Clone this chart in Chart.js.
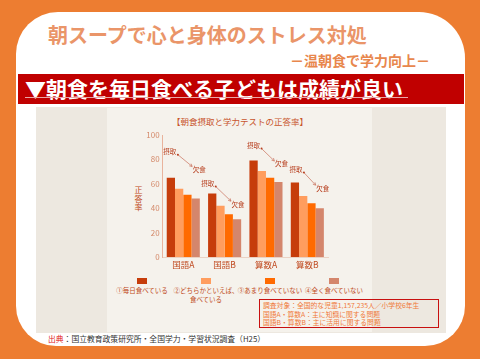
<!DOCTYPE html>
<html><head><meta charset="utf-8">
<script src="https://cdn.jsdelivr.net/npm/chart.js@4.4.0/dist/chart.umd.min.js"></script>
<style>
html,body{margin:0;padding:0;}
body{width:480px;height:359px;overflow:hidden;background:#ed7d31;position:relative;font-family:"Noto Sans CJK JP","Noto Sans",sans-serif;}
.abs{position:absolute;white-space:nowrap;}
#panel{left:16px;top:12px;width:449px;height:334px;background:#fff;border-radius:42px 46px 40px 40px;}
#title{left:48px;top:21px;font-size:20px;line-height:28px;font-weight:bold;color:#ea9569;}
#sub{left:290px;top:50px;font-size:14px;line-height:20px;font-weight:bold;color:#e8874d;}
#redbar{left:18px;top:74px;width:446px;height:30px;background:#c00000;}
#head{left:25px;top:73px;font-size:21px;line-height:30px;font-weight:bold;color:#fff;}
#uline{left:25px;top:97px;width:383px;height:1px;background:#eaa8a8;}
#beige{left:36px;top:107px;width:410px;height:226px;background:#ede8e0;}
#inner{left:107px;top:108px;width:265px;height:224px;background:#f5f2ec;}
#ctitle{left:172px;top:115px;font-size:8.5px;line-height:12px;color:#c8552c;}
#ytitle{left:134px;top:186px;width:9px;font-size:8px;line-height:8.5px;color:#c04a20;text-align:center;white-space:normal;}
#legend{left:110px;top:278px;display:flex;}
.li{width:64px;display:flex;flex-direction:column;align-items:center;}
.sq{width:10px;height:6px;}
.lt{margin-top:2px;font-size:6.5px;line-height:8.5px;color:#c04a20;text-align:center;white-space:pre;}
#note{left:259px;top:299px;width:175px;height:26px;border:1.5px solid #c81010;padding:1px 0 0 3px;font-size:6.8px;line-height:8.5px;color:#f07838;white-space:pre;}
#src{left:48px;top:333px;font-size:7.8px;line-height:12px;color:#333;}
#src b{color:#e02020;font-weight:normal;}
canvas{position:absolute;left:0;top:0;}
</style></head>
<body>
<div class="abs" id="panel"></div>
<div class="abs" id="title">朝スープで心と身体のストレス対処</div>
<div class="abs" id="sub">－温朝食で学力向上－</div>
<div class="abs" id="redbar"></div>
<div class="abs" id="head">▼朝食を毎日食べる子どもは成績が良い</div>
<div class="abs" id="uline"></div>
<div class="abs" id="beige"></div>
<div class="abs" id="inner"></div>
<div class="abs" id="ctitle">【朝食摂取と学力テストの正答率】</div>
<div class="abs" id="ytitle">正答率</div>
<div class="abs" id="legend"></div>
<div class="abs" id="note"></div>
<div class="abs" id="src"><b>出典</b>：国立教育政策研究所・全国学力・学習状況調査（H25）</div>
<canvas id="c" width="480" height="359"></canvas>
<script>
const categories = ['国語A', '国語B', '算数A', '算数B'];
const seriesNames = ['①毎日食べている', '②どちらかといえば、\n食べている', '③あまり食べていない', '④全く食べていない'];
const everyDay = [65, 52, 79, 61];
const mostly = [56, 42, 70.5, 50];
const rarely = [51, 35, 65, 44];
const never = [48, 31, 61.5, 40];
const yTicks = [0, 20, 40, 60, 80, 100];
const noteLines = ['調査対象：全国的な児童1,157,235人／小学校6年生', '国語A・算数A：主に知識に関する問題', '国語B・算数B：主に活用に関する問題'];
const annoLabels = ['摂取', '欠食'];

const colors = ['#c63d0b', '#ff9d5e', '#ff6a00', '#d4866c'];
const seriesValues = [everyDay, mostly, rarely, never];

// legend (HTML)
const lg = document.getElementById('legend');
seriesNames.forEach((n, i) => {
  const d = document.createElement('div'); d.className = 'li';
  const s = document.createElement('div'); s.className = 'sq'; s.style.background = colors[i];
  const t = document.createElement('div'); t.className = 'lt'; t.textContent = n;
  d.appendChild(s); d.appendChild(t); lg.appendChild(d);
});
document.getElementById('note').textContent = noteLines.join('\n');

const FONT = '"Noto Sans CJK JP","Noto Sans",sans-serif';
// per-group pixel offsets for annotations [dx1,dy1,dx2,dy2]
const annoOffsets = [[-1,-26,3.5,-29],[-4.5,-10,1,-15],[0,-15,3,-18],[1,-13,3,-20]];

const annoPlugin = {
  id: 'anno',
  afterDatasetsDraw(chart) {
    const ctx = chart.ctx;
    const m0 = chart.getDatasetMeta(0), m3 = chart.getDatasetMeta(3);
    ctx.save();
    ctx.font = '6.5px ' + FONT;
    ctx.fillStyle = '#b84020';
    ctx.strokeStyle = '#c8705a';
    ctx.textAlign = 'center'; ctx.textBaseline = 'middle';
    categories.forEach((c, i) => {
      const o = annoOffsets[i];
      const b0 = m0.data[i], b3 = m3.data[i];
      const x1 = b0.x + o[0], y1 = b0.y + o[1];
      const x2 = b3.x + o[2], y2 = b3.y + o[3];
      ctx.fillText(annoLabels[0], x1, y1);
      ctx.fillText(annoLabels[1], x2, y2);
      const sx = x1 + 8, sy = y1 + 3, ex = x2 - 7, ey = y2 - 3;
      ctx.lineWidth = 0.7;
      ctx.beginPath(); ctx.moveTo(sx, sy); ctx.lineTo(ex, ey); ctx.stroke();
      ctx.beginPath(); ctx.arc(sx, sy, 1, 0, Math.PI * 2); ctx.fill();
      const a = Math.atan2(ey - sy, ex - sx);
      ctx.beginPath();
      ctx.moveTo(ex, ey);
      ctx.lineTo(ex - 3 * Math.cos(a - 0.5), ey - 3 * Math.sin(a - 0.5));
      ctx.moveTo(ex, ey);
      ctx.lineTo(ex - 3 * Math.cos(a + 0.5), ey - 3 * Math.sin(a + 0.5));
      ctx.stroke();
    });
    ctx.restore();
  }
};

new Chart(document.getElementById('c'), {
  type: 'bar',
  data: {
    labels: categories,
    datasets: seriesValues.map((v, i) => ({
      label: seriesNames[i], data: v, backgroundColor: colors[i],
      categoryPercentage: 0.8, barPercentage: 1.0, borderWidth: 0
    }))
  },
  options: {
    responsive: false, animation: false, devicePixelRatio: 1,
    layout: { padding: { top: 135, right: 152, left: 0, bottom: 0 } },
    plugins: { legend: { display: false }, tooltip: { enabled: false } },
    scales: {
      x: {
        grid: { display: false, drawTicks: false },
        border: { display: true, color: '#ead2c4', width: 1 },
        ticks: { color: '#c04a20', font: { family: FONT, size: 8.5 }, padding: 3 },
        afterFit(s) { s.height = 102; }
      },
      y: {
        min: 0, max: 100,
        afterBuildTicks(s) { s.ticks = yTicks.map(v => ({ value: v })); },
        grid: { display: false, drawTicks: false },
        border: { display: true, color: '#e9b39c', width: 1 },
        ticks: { color: '#d48a6a', font: { family: FONT, size: 8 }, padding: 3 },
        afterFit(s) { s.width = 162.6; }
      }
    }
  },
  plugins: [annoPlugin]
});
</script>
</body></html>
